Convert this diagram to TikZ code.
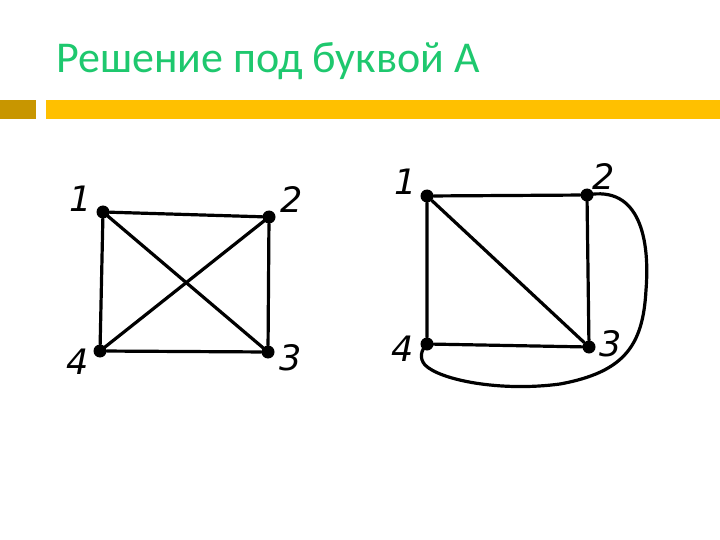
\documentclass[tikz,border=0pt]{standalone}
\usepackage{fontspec}
\setmainfont{Carlito}
\newfontfamily\handfont{DejaVu Sans}
\definecolor{titlegreen}{RGB}{30,200,110}
\definecolor{bargold}{RGB}{255,192,0}
\definecolor{squaregold}{RGB}{200,150,0}
\begin{document}
\begin{tikzpicture}[x=1pt,y=-1pt,
  edge/.style={line width=3.2pt,line cap=round,line join=round},
  vert/.style={circle,fill=black,inner sep=0pt,minimum size=13pt},
  lbl/.style={font=\handfont\itshape\fontsize{35}{37}\selectfont,inner sep=0pt}]
\useasboundingbox (0,0) rectangle (720,540);
\fill[white] (0,0) rectangle (720,540);
\node[anchor=base west,text=titlegreen,font=\fontsize{44}{48}\selectfont,inner sep=0pt] (title) at (56,73) {Решение под буквой А};
\fill[squaregold] (0,100) rectangle (36,119);
\fill[bargold] (46,100) rectangle (720,119);
% left graph
\node[vert] (a1) at (103,212) {};
\node[vert] (a2) at (269,217) {};
\node[vert] (a3) at (268,352) {};
\node[vert] (a4) at (100,351) {};
\draw[edge] (a1) -- (a2) -- (a3) -- (a4) -- (a1);
\draw[edge] (a1) -- (a3);
\draw[edge] (a2) -- (a4);
\node[lbl] (l1) at (81,199) {1};
\node[lbl] (l2) at (292,200) {2};
\node[lbl] (l3) at (291,358) {3};
\node[lbl] (l4) at (78,362) {4};
% right graph
\node[vert] (b1) at (427,196) {};
\node[vert] (b2) at (587,195) {};
\node[vert] (b3) at (589,347) {};
\node[vert] (b4) at (427,344) {};
\draw[edge] (b1) -- (b2) -- (b3) -- (b4) -- (b1);
\draw[edge] (b1) -- (b3);
\draw[edge] (b2.center) .. controls (640,185) and (650,240) .. (646,290)
  .. controls (643,345) and (625,372) .. (560,384)
  .. controls (500,392) and (440,380) .. (425,365)
  .. controls (419,358) and (421,350) .. (b4.center);
\node[lbl] (m1) at (406,182) {1};
\node[lbl] (m2) at (604,177) {2};
\node[lbl] (m3) at (611,344) {3};
\node[lbl] (m4) at (403,349) {4};
\end{tikzpicture}
\end{document}
